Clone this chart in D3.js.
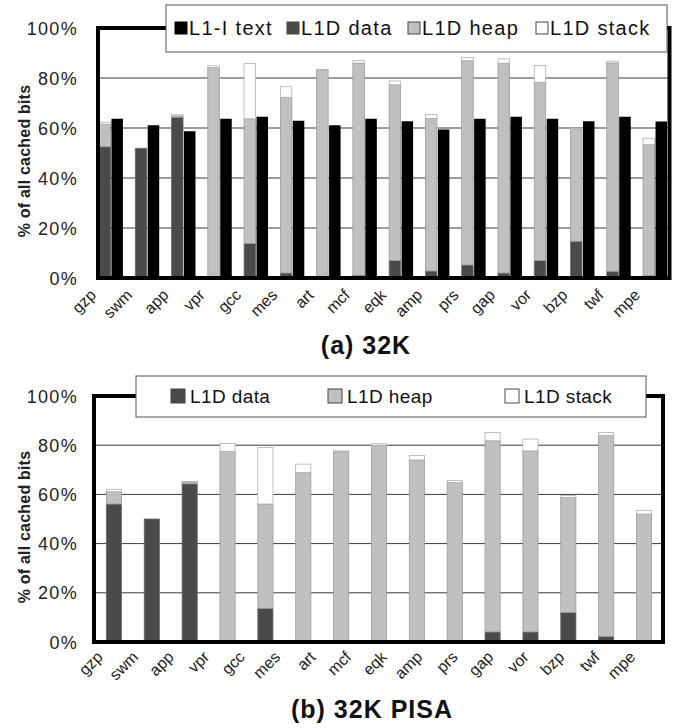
<!DOCTYPE html>
<html>
<head>
<meta charset="utf-8">
<script src="https://cdn.jsdelivr.net/npm/d3@7"></script>
<style>
  html, body { margin: 0; padding: 0; background: #fff; }
  svg { display: block; font-family: "Liberation Sans", Arial, Helvetica, sans-serif; }
</style>
</head>
<body>
<svg id="chart" width="673" height="728"></svg>
<script>
// ---------- data ----------
const categories = ["gzp","swm","app","vpr","gcc","mes","art","mcf","eqk","amp","prs","gap","vor","bzp","twf","mpe"];
// (a) 32K
const textA  = [63.7,61.1,58.7,63.7,64.5,62.9,61.1,63.7,62.7,59.4,63.7,64.5,63.7,62.7,64.5,62.6];
const dataA  = [52.5,51.9,64.3,0.5,13.8,2.0,0.5,1.1,7.0,2.8,5.2,2.0,7.0,14.7,2.7,0.9];
const heapA  = [9.0,0,0.5,83.7,49.9,70.3,82.6,84.9,70.3,61.0,81.7,83.9,71.3,44.8,83.3,52.5];
const stackA = [0.8,0,0.5,0.7,22.1,4.2,0.3,1.0,1.5,1.6,1.3,1.8,6.7,0.4,0.7,2.5];
// (b) 32K PISA  (15 bars drawn under 16 category labels, as in the figure)
const pisaBars = d3.range(15);
const dataB  = [56.1,50.0,64.3,0.3,13.7,0,0,0,0,0,4.1,4.1,12.0,2.3,0.3];
const heapB  = [5.0,0,0.7,77.1,42.4,68.9,77.3,80.0,74.0,64.8,77.7,73.6,46.7,81.7,51.7];
const stackB = [1.0,0,0.3,3.3,23.0,3.4,0.4,0.6,1.8,0.8,3.4,4.8,0.8,1.2,1.5];
const yTicks = [0,20,40,60,80,100];
const legendA = ["L1-I text","L1D data","L1D heap","L1D stack"];
const legendB = ["L1D data","L1D heap","L1D stack"];
const yTitle = "% of all cached bits";
const captionA = "(a) 32K";
const captionB = "(b) 32K PISA";

// ---------- styles ----------
const fills = { "L1-I text": "#000000", "L1D data": "#4a4a4a", "L1D heap": "#c0c0c0", "L1D stack": "#ffffff" };
const strokes = { "L1-I text": "#000000", "L1D data": "#6a6a6a", "L1D heap": "#9a9a9a", "L1D stack": "#b0b0b0" };
const keys = ["L1D data","L1D heap","L1D stack"];

const svg = d3.select("#chart");

function panel(opt) {
  const g = svg.append("g");
  const y = d3.scaleLinear().domain([0,100]).range([opt.y0, opt.y1]);

  // gridlines
  g.selectAll("line.grid").data(yTicks.filter(t => t > 0 && t < 100)).join("line")
    .attr("x1", opt.left).attr("x2", opt.right)
    .attr("y1", d => y(d)).attr("y2", d => y(d))
    .attr("stroke", "#3a3a3a").attr("stroke-width", 1);

  // stacked bars
  const rows = opt.ids.map((id, i) => ({ id, "L1D data": opt.data[i], "L1D heap": opt.heap[i], "L1D stack": opt.stack[i] }));
  const series = d3.stack().keys(keys)(rows);
  series.forEach(s => {
    g.selectAll(null).data(s.filter(d => d[1] - d[0] > 0)).join("rect")
      .attr("x", d => opt.barX(d.data.id))
      .attr("width", opt.barW)
      .attr("y", d => y(d[1]))
      .attr("height", d => y(d[0]) - y(d[1]))
      .attr("fill", fills[s.key]).attr("stroke", strokes[s.key]).attr("stroke-width", 0.8);
  });
  if (opt.text) {
    g.selectAll(null).data(opt.ids).join("rect")
      .attr("x", (d) => opt.textX(d))
      .attr("width", opt.barW)
      .attr("y", (d, i) => y(opt.text[i]))
      .attr("height", (d, i) => y(0) - y(opt.text[i]))
      .attr("fill", fills["L1-I text"]);
  }

  // thick frame
  g.append("rect")
    .attr("x", opt.left).attr("y", y(100))
    .attr("width", opt.right - opt.left).attr("height", y(0) - y(100))
    .attr("fill", "none").attr("stroke", "#000").attr("stroke-width", 4);

  // y tick labels
  g.selectAll("text.yt").data(yTicks).join("text")
    .attr("x", 78).attr("y", d => y(d) + 6.5)
    .attr("text-anchor", "end")
    .attr("font-size", 18).attr("letter-spacing", 1.3)
    .attr("fill", "#222")
    .text(d => d + "%");

  // y title
  g.append("text")
    .attr("transform", `translate(30,${(opt.y0 + opt.y1) / 2 + 8}) rotate(-90)`)
    .attr("text-anchor", "middle")
    .attr("font-size", 16).attr("font-weight", "bold").attr("letter-spacing", 0.2)
    .attr("fill", "#222")
    .text(yTitle);

  // x labels
  g.selectAll("text.xl").data(categories).join("text")
    .attr("transform", d => `translate(${opt.labelX(d)},${opt.labelY}) rotate(-45)`)
    .attr("text-anchor", "end")
    .attr("font-size", 16)
    .attr("fill", "#222")
    .text(d => d);

  // legend
  const L = opt.legend;
  g.append("rect").attr("x", L.x).attr("y", L.y).attr("width", L.w).attr("height", L.h)
    .attr("fill", "#fff").attr("stroke", "#555").attr("stroke-width", 1);
  const items = g.selectAll("g.li").data(L.items).join("g")
    .attr("transform", (d, i) => `translate(${L.xs[i]},0)`);
  items.append("rect")
    .attr("x", 0).attr("y", L.sqY).attr("width", L.sq).attr("height", L.sq)
    .attr("fill", d => fills[d]).attr("stroke", d => d === "L1-I text" ? "#000" : "#444").attr("stroke-width", 1);
  items.append("text")
    .attr("x", L.sq + L.gap).attr("y", L.base)
    .attr("font-size", L.fs).attr("letter-spacing", L.ls)
    .attr("fill", "#111")
    .text(d => d);

  // caption
  g.append("text")
    .attr("x", opt.capX).attr("y", opt.capY)
    .attr("text-anchor", "middle")
    .attr("font-size", 25).attr("font-weight", "bold").attr("letter-spacing", 1)
    .attr("fill", "#111")
    .text(opt.caption);
}

// ---------- panel (a) ----------
const xA = d3.scaleBand().domain(categories).range([99, 667]).paddingInner(0.34).paddingOuter(0);
const bwA = xA.bandwidth() * 0.48;
panel({
  ids: categories, data: dataA, heap: heapA, stack: stackA, text: textA,
  y0: 278, y1: 28, left: 98, right: 669.5,
  barX: id => xA(id), textX: id => xA(id) + xA.bandwidth() - bwA, barW: bwA,
  labelX: c => xA(c) + xA.bandwidth() / 2 - 14, labelY: 296,
  legend: { x: 166, y: 5, w: 501, h: 47, items: legendA, xs: [175, 287, 408, 536],
            sq: 12, sqY: 22, gap: 2, base: 34.5, fs: 20, ls: 1.3 },
  caption: captionA, capX: 366, capY: 354
});

// ---------- panel (b) ----------
const xB = d3.scaleBand().domain(pisaBars).range([95, 663]).paddingInner(0.6).paddingOuter(0.3);
const xLB = d3.scaleBand().domain(categories).range([95, 663]);
panel({
  ids: pisaBars, data: dataB, heap: heapB, stack: stackB, text: null,
  y0: 642, y1: 396, left: 94, right: 663,
  barX: id => xB(id), barW: xB.bandwidth(),
  labelX: c => xLB(c) + xLB.bandwidth() / 2 - 9, labelY: 658,
  legend: { x: 136, y: 376, w: 510, h: 41, items: legendB, xs: [171, 328, 505],
            sq: 14, sqY: 389, gap: 5, base: 403, fs: 19, ls: 0.4 },
  caption: captionB, capX: 372, capY: 718
});
</script>
</body>
</html>
